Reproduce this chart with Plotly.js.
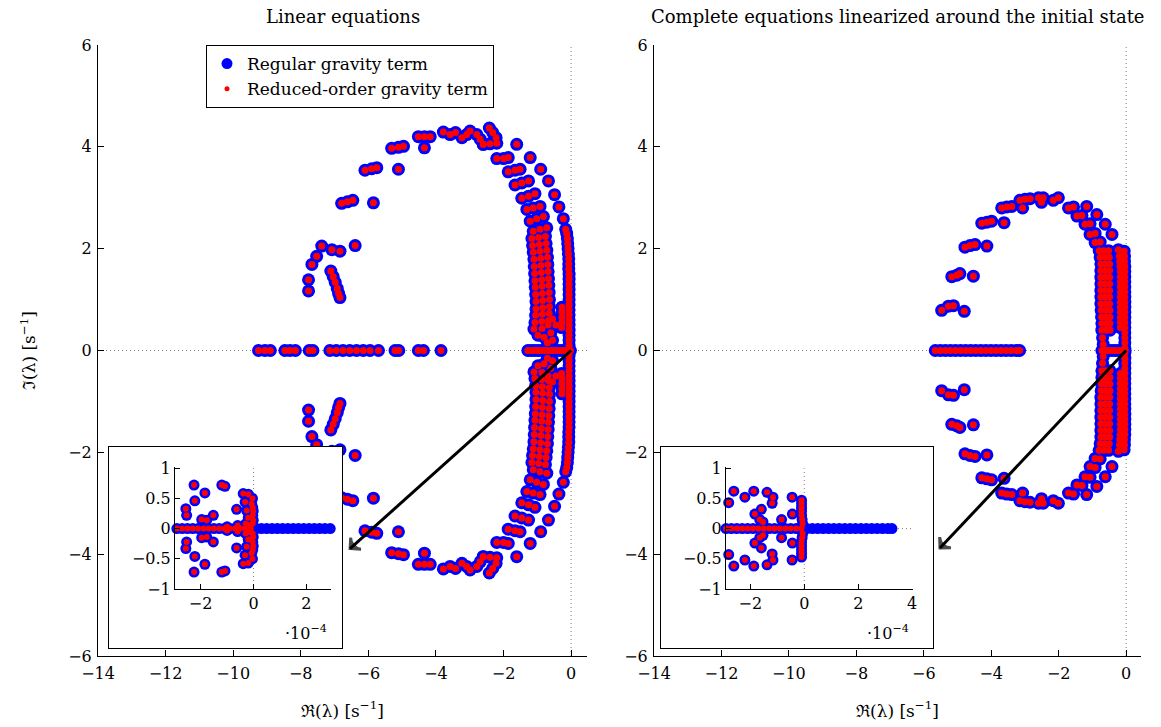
<!DOCTYPE html>
<html>
<head>
<meta charset="utf-8">
<script src="https://cdn.plot.ly/plotly-3.0.1.min.js"></script>
<style>
  html, body { margin: 0; padding: 0; background: #fff; }
  #main { position: absolute; left: 0; top: 0; width: 1161px; height: 727px; }
  .insetbox { position: absolute; border: 1px solid #000; background: #fff; }
</style>
</head>
<body>
<div id="main"></div>
<div class="insetbox" style="left:108px; top:446px; width:233px; height:201px;"><div id="insetL" style="width:233px;height:201px;"></div></div>
<div class="insetbox" style="left:660px; top:446px; width:272px; height:201px;"><div id="insetR" style="width:272px;height:201px;"></div></div>
<script>
// ---------------- DATA (eigenvalues) ----------------
// Left panel: linear equations, upper half-plane (conjugates mirror below)
const linUpperRe = [
  -5.31,-5.11,-4.96, -4.34, -4.52,-4.34,-4.17, -3.78,-3.58,-3.42, -3.23,-3.09,-2.99, -2.79,-2.69,-2.60,
  -6.10,-5.90,-5.75, -5.11, -6.79,-6.62,-6.46, -5.85, -7.38,-7.08,-6.84, -6.39, -7.53,-7.67, -7.77,-7.77,
  -7.11,-7.04,-6.98,-6.92,-6.88,-6.84,
  -2.42,-2.32,-2.22, -2.60,-2.40,-2.20, -1.61, -2.20,-2.00,-1.86, -1.21, -1.86,-1.66,-1.51, -0.90,
  -1.66,-1.46,-1.26, -0.67, -1.46,-1.26,-1.07, -0.49, -1.31,-1.12,-0.92, -0.36, -1.21,-1.02,-0.82, -0.23,
  -1.12,-0.92,-0.72, -0.16,
  -1.16,-0.96,-0.76, -1.14,-0.94,-0.74, -1.12,-0.92,-0.72, -1.10,-0.90,-0.70, -1.09,-0.89,-0.69,
  -1.08,-0.88,-0.68, -1.07,-0.87,-0.67, -1.06,-0.86,-0.66, -1.05,-0.85,-0.65, -1.04,-0.84,-0.64,
  -1.04,-0.84,-0.64, -1.05,-0.85,-0.65, -1.07,-0.87,-0.67,
  -0.13,-0.11,-0.10,-0.09,-0.08,-0.07,-0.07,-0.07,-0.06,-0.06,-0.06,-0.06,-0.06,-0.06,-0.06,-0.06,
  -0.06,-0.06,-0.06,-0.06,-0.06,-0.06,-0.06,
  -0.27,-0.27,-0.27,-0.27,-0.28,
  -1.10,-0.98,-0.80,-0.86,-0.68,-0.55,-0.45,-0.60,-0.70,-0.55
];
const linUpperIm = [
  3.97,3.99,4.01, 3.98, 4.20,4.20,4.20, 4.29,4.24,4.28, 4.18,4.24,4.31, 4.24,4.15,4.05,
  3.54,3.57,3.59, 3.56, 2.89,2.92,2.95, 2.90, 2.05,1.98,1.95, 2.06, 1.85,1.69, 1.39,1.17,
  1.56,1.45,1.34,1.22,1.12,1.04,
  4.37,4.28,4.18, 4.05,4.06,4.07, 4.05, 3.77,3.77,3.79, 3.79, 3.51,3.54,3.56, 3.56,
  3.25,3.29,3.33, 3.33, 2.99,3.03,3.08, 3.06, 2.77,2.80,2.83, 2.82, 2.54,2.59,2.63, 2.59,
  2.34,2.38,2.41, 2.38,
  2.20,2.22,2.24, 2.06,2.08,2.10, 1.93,1.95,1.97, 1.79,1.81,1.83, 1.65,1.67,1.69,
  1.51,1.53,1.55, 1.37,1.39,1.41, 1.24,1.26,1.28, 1.10,1.12,1.14, 0.96,0.98,1.00,
  0.82,0.84,0.86, 0.69,0.71,0.73, 0.55,0.57,0.59,
  2.30,2.20,2.10,2.00,1.90,1.80,1.70,1.60,1.50,1.40,1.30,1.20,1.10,1.00,0.90,0.80,
  0.70,0.60,0.50,0.40,0.30,0.20,0.10,
  0.85,0.75,0.65,0.55,0.45,
  0.42,0.30,0.26,0.43,0.50,0.62,0.50,0.35,0.15,0.20
];
// Left panel: purely real eigenvalues
const linRealAxis = [
  -9.25,-9.06,-8.90,-8.47,-8.32,-8.16,-7.75,-7.64,-7.14,-6.95,-6.75,-6.55,-6.35,-6.15,-5.95,-5.70,
  -5.21,-5.10,-4.52,-4.37,-3.85,
  -1.28,-1.18,-1.08,-0.98,-0.88,-0.78,-0.68,-0.58,-0.48,-0.38,-0.28,-0.18,-0.08,-0.02
];

// Right panel: complete equations linearized around the initial state
const cplUpperRe = [
  -5.47,-5.27,-5.12, -4.80, -5.17,-5.02,-4.93, -4.53, -4.78,-4.63,-4.48, -4.13,
  -4.28,-4.13,-3.99, -3.62, -3.69,-3.54,-3.39, -3.07, -3.15,-3.00,-2.85,
  -2.60,-2.46,-2.51, -2.16,-2.01, -1.71,-1.56, -1.17, -1.46,-1.31, -0.87,
  -1.22,-1.07, -0.62, -1.07,-0.92, -0.42, -0.92,-0.77, -0.23,
  -0.80,-0.66,-0.52, -0.77,-0.63,-0.50, -0.75,-0.62,-0.49, -0.75,-0.62,-0.49, -0.75,-0.62,-0.49,
  -0.75,-0.62,-0.49, -0.75,-0.62,-0.49, -0.75,-0.62,-0.49, -0.75,-0.62,-0.49, -0.74,-0.61,-0.48,
  -0.73,-0.60,-0.48, -0.72,-0.60,-0.48, -0.72,-0.60,-0.48,
  -0.70,-0.68,
  -0.20,-0.19,-0.18,-0.17,-0.17,-0.17,-0.17,-0.17,-0.17,-0.17,-0.17,-0.17,-0.17,-0.17,-0.17,
  -0.06,-0.05,-0.05,-0.04,-0.04,-0.04,-0.04,-0.04,-0.04,-0.04,-0.04,-0.04,-0.04,-0.04,-0.04,
  -0.04,-0.04,-0.04,-0.04,-0.04
];
const cplUpperIm = [
  0.79,0.87,0.88, 0.77, 1.45,1.48,1.51, 1.46, 2.03,2.06,2.08, 2.05,
  2.50,2.52,2.54, 2.51, 2.80,2.82,2.83, 2.80, 2.95,2.97,2.98,
  3.00,3.00,2.91, 2.95,3.00, 2.80,2.82, 2.83, 2.64,2.65, 2.67,
  2.48,2.49, 2.48, 2.28,2.30, 2.28, 2.12,2.13, 1.98,
  1.96,1.96,1.96, 1.83,1.83,1.83, 1.70,1.70,1.70, 1.57,1.57,1.57, 1.44,1.44,1.44,
  1.31,1.31,1.31, 1.18,1.18,1.18, 1.05,1.05,1.05, 0.92,0.92,0.92, 0.79,0.79,0.79,
  0.66,0.66,0.66, 0.53,0.53,0.53, 0.40,0.40,0.40,
  0.25,0.12,
  1.85,1.75,1.65,1.55,1.45,1.35,1.25,1.15,1.05,0.95,0.85,0.75,0.65,0.55,0.45,
  1.95,1.85,1.75,1.65,1.55,1.45,1.35,1.25,1.15,1.05,0.95,0.85,0.75,0.65,0.55,
  0.45,0.35,0.25,0.15,0.05
];
const cplRealAxis = [
  -5.66,-5.51,-5.36,-5.21,-5.06,-4.91,-4.76,-4.61,-4.46,-4.31,-4.16,-4.01,-3.86,-3.71,-3.56,-3.41,
  -3.26,-3.16,
  -0.72,-0.62,-0.52,-0.42,-0.32,-0.22,-0.12,-0.03
];

// Insets (real part in units of 1e-4 s^-1)
const linZoomUpperRe = [-2.25,-1.84,-2.22,-2.56,-2.53,-1.96,-1.77,-1.52,-1.20,-1.08,-0.64,
  -0.39,-0.20,-0.32,-0.07,-0.26,-0.01,-0.20,-0.01,-0.20,-0.04,-0.03,-0.03,-0.03,-1.00,-0.60,-0.30];
const linZoomUpperIm = [0.72,0.59,0.46,0.33,0.22,0.15,0.14,0.22,0.72,0.70,0.32,
  0.58,0.57,0.44,0.41,0.30,0.29,0.18,0.14,0.06,0.50,0.35,0.22,0.08,0.03,0.05,0.08];
const linZoomRealNeg = [-2.90,-2.70,-2.50,-2.30,-2.10,-1.90,-1.70,-1.50,-1.30,-1.10,-0.90,-0.70,-0.50,-0.30,-0.10];
const linZoomRealPosRegular = [0.10,0.30,0.50,0.70,0.90,1.10,1.30,1.50,1.70,1.90,2.10,2.30,2.50,2.70,2.90];

const cplZoomUpperRe = [-2.61,-2.80,-2.20,-1.87,-1.38,-1.16,-1.19,-1.59,-1.83,-1.65,-1.53,-0.84,-0.45,-0.44,
  -0.10,-0.10,-0.10,-0.10,-0.10,-0.08,-0.06];
const cplZoomUpperIm = [0.62,0.43,0.52,0.62,0.60,0.52,0.42,0.32,0.24,0.15,0.11,0.15,0.52,0.24,
  0.47,0.41,0.35,0.29,0.22,0.15,0.08];
const cplZoomRealNeg = [-2.90,-2.70,-2.50,-2.30,-2.10,-1.90,-1.70,-1.50,-1.30,-1.10,-0.90,-0.70,-0.50,-0.30,-0.10];
const cplZoomRealPosRegular = [0.10,0.30,0.50,0.70,0.90,1.10,1.30,1.50,1.70,1.90,2.10,2.30,2.50,2.70,2.90,3.10,3.25];

// Arrows pointing from the origin to the zoomed inset
const linArrowRe = [0, -6.54], linArrowIm = [0, -3.89];
const cplArrowRe = [0, -5.52], cplArrowIm = [0, -3.88];

const seriesNames = ['Regular gravity term', 'Reduced-order gravity term'];
const xTicks = [-14,-12,-10,-8,-6,-4,-2,0];
const yTicks = [-6,-4,-2,0,2,4,6];

// ---------------- helpers ----------------
function spectrum(upRe, upIm, axisRe) {
  return {
    x: upRe.concat(upRe, axisRe),
    y: upIm.concat(upIm.map(v => -v), axisRe.map(() => 0))
  };
}
const BLUE = '#0000ff', RED = '#ff0000';
const FONT = 'DejaVu Serif, Liberation Serif, serif';
const TICKSIZE = 16, TXTSIZE = 17, TITLESIZE = 18;

function pts(s, color, size, xa, ya, name) {
  return { type: 'scatter', mode: 'markers', x: s.x, y: s.y, xaxis: xa, yaxis: ya,
    name: name, showlegend: false, cliponaxis: false,
    marker: { color: color, size: size, line: { width: 0 } }, hoverinfo: 'skip' };
}
function arrow(xs, ys, xa, ya) {
  return { type: 'scatter', mode: 'lines+markers', x: xs, y: ys, xaxis: xa, yaxis: ya,
    showlegend: false, hoverinfo: 'skip', cliponaxis: false,
    line: { color: '#000', width: 3 },
    marker: { symbol: ['circle', 'arrow-wide-open'], size: [0, 11], angleref: 'previous',
      color: '#000', line: { color: '#000', width: 3 } } };
}
function legendOnly(color, size, name) {
  return { type: 'scatter', mode: 'markers', x: [null], y: [null], xaxis: 'x', yaxis: 'y',
    name: name, showlegend: true, marker: { color: color, size: size }, hoverinfo: 'skip' };
}

const linS = spectrum(linUpperRe, linUpperIm, linRealAxis);
const cplS = spectrum(cplUpperRe, cplUpperIm, cplRealAxis);

const traces = [
  pts(linS, BLUE, 13, 'x', 'y', seriesNames[0]),
  pts(linS, RED, 7, 'x', 'y', seriesNames[1]),
  arrow(linArrowRe, linArrowIm, 'x', 'y'),
  pts(cplS, BLUE, 13, 'x2', 'y2', seriesNames[0]),
  pts(cplS, RED, 7, 'x2', 'y2', seriesNames[1]),
  arrow(cplArrowRe, cplArrowIm, 'x2', 'y2'),
  legendOnly(BLUE, 11, seriesNames[0]),
  legendOnly(RED, 5, seriesNames[1])
];

const W = 1161, H = 727;
function axisBase(extra) {
  return Object.assign({
    showline: true, linecolor: '#000', linewidth: 1, mirror: false,
    ticks: 'inside', ticklen: 6, tickwidth: 1, tickcolor: '#000',
    showgrid: false, zeroline: false,
    tickfont: { family: FONT, size: TICKSIZE, color: '#000' }
  }, extra);
}
const yDom = [1 - 656 / H, 1 - 45 / H];
const xTitle = { text: 'ℜ(λ) [s<sup>−1</sup>]', font: { family: FONT, size: TXTSIZE, color: '#000' }, standoff: 22 };
const DOT = { color: '#808080', width: 1, dash: '1px,3px' };

function zeroLines(xa, ya, xmin, xmax) {
  return [
    { type: 'line', xref: xa, yref: ya, x0: 0, x1: 0, y0: -6, y1: 6, layer: 'below', line: DOT },
    { type: 'line', xref: xa, yref: ya, x0: xmin, x1: xmax, y0: 0, y1: 0, layer: 'below', line: DOT }
  ];
}

const layout = {
  width: W, height: H,
  margin: { l: 0, r: 0, t: 0, b: 0 },
  paper_bgcolor: '#fff', plot_bgcolor: 'rgba(0,0,0,0)',
  font: { family: FONT, size: TXTSIZE, color: '#000' },
  showlegend: true,
  legend: { x: 206 / W, y: 1 - 45 / H, xanchor: 'left', yanchor: 'top',
    bgcolor: '#fff', bordercolor: '#000', borderwidth: 1, itemwidth: 30,
    font: { family: FONT, size: TXTSIZE, color: '#000' }, tracegroupgap: 0 },
  xaxis: axisBase({ domain: [98 / W, 587 / W], range: [-14, 0.47], tickvals: xTicks, anchor: 'y',
    ticklabelstandoff: 3, title: xTitle }),
  yaxis: axisBase({ domain: yDom, range: [-6, 6], tickvals: yTicks, anchor: 'x', ticklabelstandoff: 2,
    title: { text: 'ℑ(λ) [s<sup>−1</sup>]', font: { family: FONT, size: TXTSIZE, color: '#000' }, standoff: 28 } }),
  xaxis2: axisBase({ domain: [654 / W, 1141 / W], range: [-14, 0.44], tickvals: xTicks, anchor: 'y2',
    ticklabelstandoff: 3, title: xTitle }),
  yaxis2: axisBase({ domain: yDom, range: [-6, 6], tickvals: yTicks, anchor: 'x2', ticklabelstandoff: 2 }),
  shapes: zeroLines('x', 'y', -14, 0.47).concat(zeroLines('x2', 'y2', -14, 0.44)),
  annotations: [
    { text: 'Linear equations', xref: 'paper', yref: 'paper', x: 342.5 / W, y: 1 - 16 / H,
      xanchor: 'center', yanchor: 'middle', showarrow: false, font: { family: FONT, size: TITLESIZE, color: '#000' } },
    { text: 'Complete equations linearized around the initial state', xref: 'paper', yref: 'paper',
      x: 897.5 / W, y: 1 - 16 / H, xanchor: 'center', yanchor: 'middle', showarrow: false,
      font: { family: FONT, size: TITLESIZE, color: '#000' } }
  ]
};

Plotly.newPlot('main', traces, layout, { displayModeBar: false, staticPlot: true });

// ---------------- insets ----------------
function inset(id, upRe, upIm, negAxis, posAxisRegular, xRange, xTickVals, margin, w, h, expX) {
  const blue = spectrum(upRe, upIm, negAxis.concat(posAxisRegular));
  const red = spectrum(upRe, upIm, negAxis);
  const data = [
    { type: 'scatter', mode: 'markers', x: blue.x, y: blue.y, cliponaxis: false, hoverinfo: 'skip',
      name: seriesNames[0], marker: { color: BLUE, size: 11 }, showlegend: false },
    { type: 'scatter', mode: 'markers', x: red.x, y: red.y, cliponaxis: false, hoverinfo: 'skip',
      name: seriesNames[1], marker: { color: RED, size: 6 }, showlegend: false }
  ];
  const lay = {
    width: w, height: h, margin: margin,
    paper_bgcolor: '#fff', plot_bgcolor: 'rgba(0,0,0,0)',
    font: { family: FONT, size: TICKSIZE, color: '#000' },
    xaxis: axisBase({ range: xRange, tickvals: xTickVals, ticklen: 5 }),
    yaxis: axisBase({ range: [-1, 1.02], tickvals: [-1, -0.5, 0, 0.5, 1], ticklen: 5 }),
    shapes: [
      { type: 'line', xref: 'x', yref: 'y', x0: 0, x1: 0, y0: -1, y1: 1, layer: 'below', line: DOT },
      { type: 'line', xref: 'x', yref: 'y', x0: xRange[0], x1: xRange[1], y0: 0, y1: 0, layer: 'below', line: DOT }
    ],
    annotations: [
      { text: '·10<sup>−4</sup>', xref: 'paper', yref: 'paper', x: expX, y: -0.36,
        xanchor: 'center', yanchor: 'middle', showarrow: false, font: { family: FONT, size: TICKSIZE, color: '#000' } }
    ]
  };
  Plotly.newPlot(id, data, lay, { displayModeBar: false, staticPlot: true });
}

inset('insetL', linZoomUpperRe, linZoomUpperIm, linZoomRealNeg, linZoomRealPosRegular,
  [-2.97, 2.93], [-2, 0, 2], { l: 66, r: 11, t: 20, b: 59 }, 233, 201, (306 - 175) / 156);
inset('insetR', cplZoomUpperRe, cplZoomUpperIm, cplZoomRealNeg, cplZoomRealPosRegular,
  [-2.9, 4.03], [-2, 0, 2, 4], { l: 65, r: 20, t: 20, b: 59 }, 272, 201, (888 - 726) / 187);
</script>
</body>
</html>
